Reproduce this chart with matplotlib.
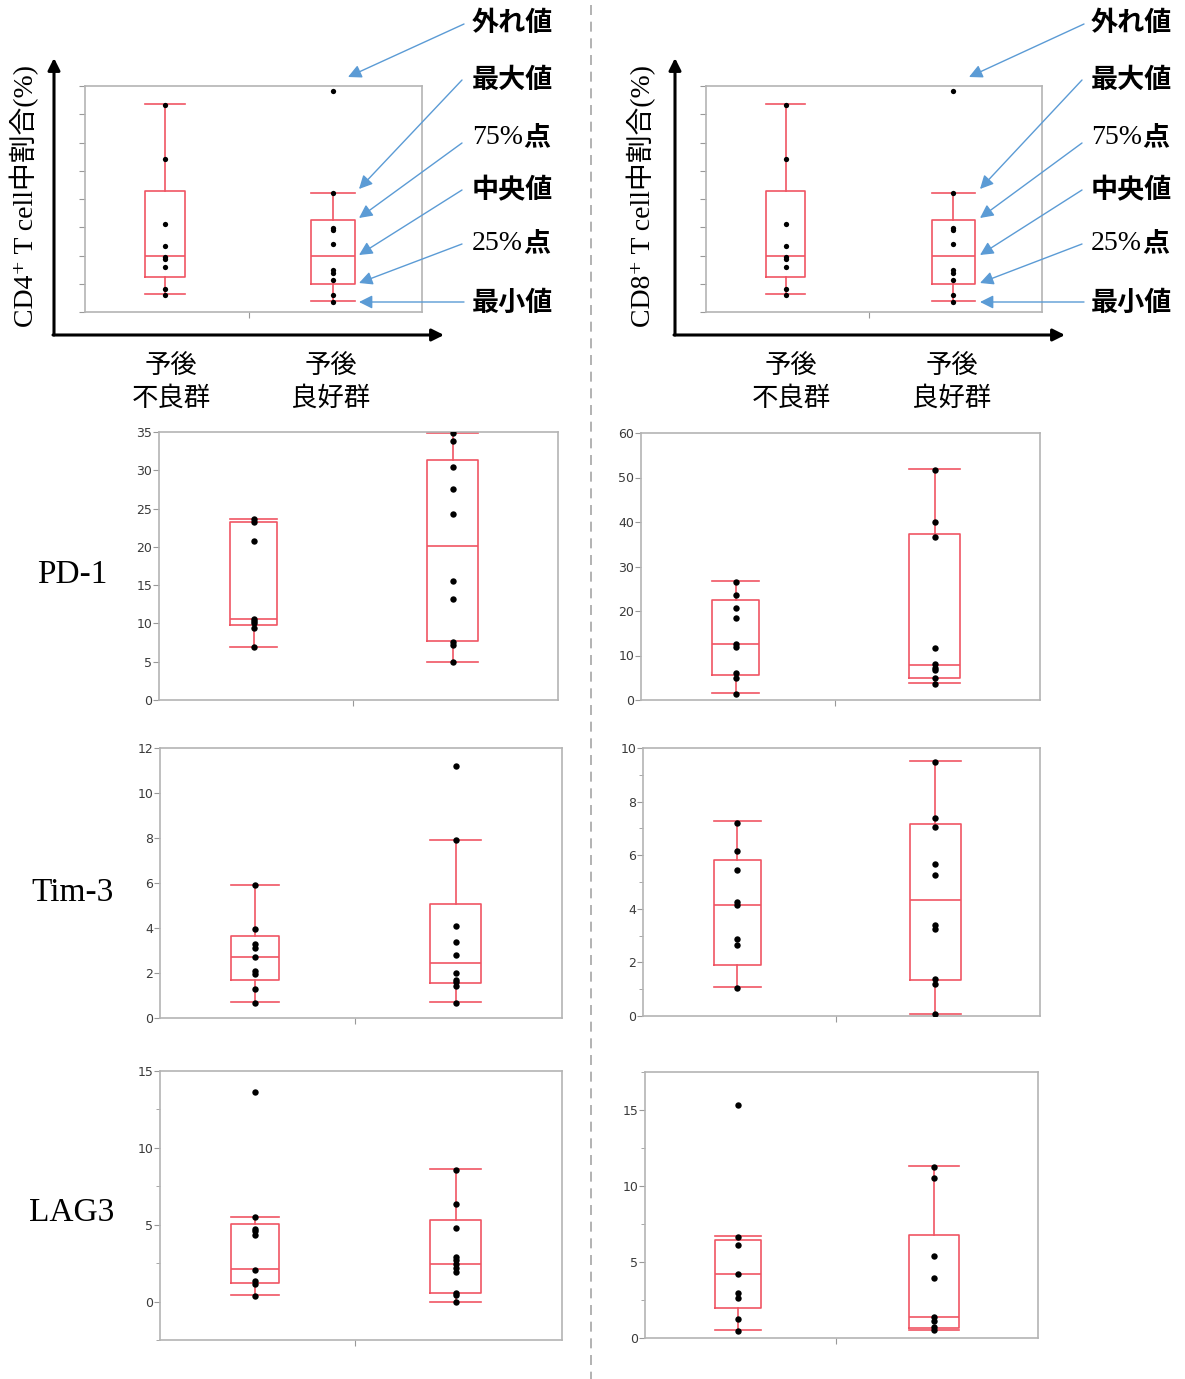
import matplotlib
matplotlib.use('Agg')
import matplotlib.pyplot as plt
import numpy as np

W, H = 1185, 1379
RED = '#f05563'
BLUE = '#5b9bd5'
GRAY = '#b4b4b4'
JP = ['Noto Sans CJK JP', 'DejaVu Sans']
SERIF_JP = ['Liberation Serif', 'Noto Sans CJK JP', 'DejaVu Serif']

groups = ['予後\n不良群', '予後\n良好群']
markers = ['PD-1', 'Tim-3', 'LAG3']

# schematic example (no units)
scheme_poor = [7.33, 5.43, 3.12, 2.32, 1.95, 1.89, 1.6, 0.82, 0.61]
scheme_good = [7.84, 4.2, 2.96, 2.9, 2.39, 1.5, 1.38, 1.12, 0.59, 0.34]
scheme_box = [(0.64, 1.24, 1.97, 4.3, 7.35), (0.38, 1.0, 1.97, 3.27, 4.21)]

# PD-1
pd1_cd4_poor = [23.6, 23.3, 20.8, 10.6, 10.3, 10.0, 9.4, 6.9]
pd1_cd4_good = [34.9, 33.8, 30.4, 27.5, 24.3, 15.6, 13.2, 7.6, 7.2, 4.9]
pd1_cd4_box = [(6.96, 9.8, 10.6, 23.3, 23.6), (4.9, 7.7, 20.1, 31.3, 34.9)]
pd1_cd8_poor = [26.5, 23.5, 20.7, 18.5, 12.6, 11.8, 6.0, 4.9, 1.4]
pd1_cd8_good = [51.6, 40.1, 36.6, 11.7, 8.2, 7.3, 6.7, 4.9, 3.7]
pd1_cd8_box = [(1.6, 5.6, 12.6, 22.4, 26.7), (3.9, 4.9, 7.9, 37.4, 51.8)]

# Tim-3
tim3_cd4_poor = [5.9, 3.96, 3.27, 3.1, 2.7, 2.07, 1.96, 1.29, 0.68]
tim3_cd4_good = [11.2, 7.9, 4.09, 3.39, 2.79, 1.99, 1.7, 1.59, 1.42, 0.68]
tim3_cd4_box = [(0.73, 1.67, 2.73, 3.66, 5.93), (0.73, 1.54, 2.43, 5.05, 7.93)]
tim3_cd8_poor = [7.22, 6.14, 5.43, 4.24, 4.14, 2.89, 2.66, 1.06]
tim3_cd8_good = [9.48, 7.38, 7.05, 5.68, 5.26, 3.39, 3.26, 1.39, 1.2, 0.07]
tim3_cd8_box = [(1.1, 1.92, 4.16, 5.82, 7.28), (0.09, 1.33, 4.33, 7.16, 9.5)]

# LAG3
lag3_cd4_poor = [13.64, 5.5, 4.75, 4.58, 4.36, 2.05, 1.34, 1.12, 0.37]
lag3_cd4_good = [8.55, 6.35, 4.81, 2.89, 2.68, 2.42, 2.2, 1.94, 0.58, 0.43, -0.06]
lag3_cd4_box = [(0.43, 1.23, 2.09, 5.07, 5.53), (0.0, 0.58, 2.46, 5.33, 8.61)]
lag3_cd8_poor = [15.33, 6.65, 6.15, 4.2, 2.97, 2.66, 1.27, 0.46]
lag3_cd8_good = [11.27, 10.52, 5.42, 3.97, 1.38, 1.12, 0.72, 0.5]
lag3_cd8_box = [(0.53, 2.0, 4.24, 6.44, 6.72), (0.53, 0.66, 1.38, 6.76, 11.33)]

fig = plt.figure(figsize=(W / 100, H / 100), dpi=100)


def add_ax(l, t, r, b):
    return fig.add_axes([l / W, 1 - b / H, (r - l) / W, (b - t) / H])


def box_panel(ax, poor, good, box, ylim, major, minor=None, labels=True, ms=4.6):
    stats = []
    for lo, q1, med, q3, hi in box:
        stats.append(dict(whislo=lo, q1=q1, med=med, q3=q3, whishi=hi, fliers=[]))
    props = dict(color=RED, lw=1.2)
    ax.bxp(stats, positions=[1, 2], widths=[0.237, 0.257], capwidths=[0.237, 0.257],
           showfliers=False, manage_ticks=False,
           boxprops=props, whiskerprops=props, capprops=props, medianprops=props)
    for pos, vals in zip([1, 2], [poor, good]):
        ax.plot(np.full(len(vals), pos), vals, 'o', color='black', ms=ms,
                mec='none', zorder=3)
    ax.set_xlim(0.525, 2.53)
    ax.set_ylim(*ylim)
    ax.set_xticks([1.5])
    ax.set_xticklabels([''])
    ax.set_yticks(major)
    if minor is not None:
        ax.set_yticks(minor, minor=True)
    if not labels:
        ax.set_yticklabels([])
    ax.tick_params(axis='both', which='both', direction='out', color='#999999',
                   labelsize=9, labelcolor='#3a3a3a', pad=1)
    ax.tick_params(which='major', length=4)
    ax.tick_params(which='minor', length=3)
    for s in ax.spines.values():
        s.set_color(GRAY)
        s.set_linewidth(1.2)


# schematic panels on top
for rect in [(85, 86, 422, 312), (706, 86, 1042, 312)]:
    ax = add_ax(*rect)
    box_panel(ax, scheme_poor, scheme_good, scheme_box, (0, 8), np.arange(0, 9, 1),
              labels=False, ms=3.8)

# data panels
panels = [
    ((159, 432, 558, 700), pd1_cd4_poor, pd1_cd4_good, pd1_cd4_box, (0, 35), np.arange(0, 36, 5), None),
    ((641, 433, 1040, 700), pd1_cd8_poor, pd1_cd8_good, pd1_cd8_box, (0, 60), np.arange(0, 61, 10), None),
    ((160, 748, 562, 1018), tim3_cd4_poor, tim3_cd4_good, tim3_cd4_box, (0, 12), np.arange(0, 13, 2), None),
    ((643, 748, 1040, 1016), tim3_cd8_poor, tim3_cd8_good, tim3_cd8_box, (0, 10), np.arange(0, 11, 2), np.arange(1, 10, 2)),
    ((160, 1071, 562, 1340), lag3_cd4_poor, lag3_cd4_good, lag3_cd4_box, (-2.5, 15), np.arange(0, 16, 5), [-2.5, 2.5, 7.5, 12.5]),
    ((645, 1072, 1038, 1338), lag3_cd8_poor, lag3_cd8_good, lag3_cd8_box, (0, 17.5), np.arange(0, 16, 5), [2.5, 7.5, 12.5, 17.5]),
]
for rect, poor, good, box, ylim, major, minor in panels:
    ax = add_ax(*rect)
    box_panel(ax, poor, good, box, ylim, major, minor)

# overlay in pixel coordinates for arrows and labels
ov = fig.add_axes([0, 0, 1, 1])
ov.set_xlim(0, W)
ov.set_ylim(H, 0)
ov.axis('off')
ov.patch.set_alpha(0)

ov.plot([591, 591], [5, H], color='#a6a6a6', lw=1.2, ls=(0, (6, 4)))

for (yx, xend, ylab_x, gx, arrow_x0, arrow_x1, text_x, cell) in [
        (54, 444, 24, (171, 331), 462, 359, 472, 'CD4'),
        (675, 1065, 641, (791, 952), 1082, 980, 1091, 'CD8')]:
    # axis arrows
    ov.annotate('', xy=(yx, 58), xytext=(yx, 335),
                arrowprops=dict(arrowstyle='-|>', color='black', lw=2.2, mutation_scale=18, shrinkA=0, shrinkB=0))
    ov.annotate('', xy=(xend, 335), xytext=(yx - 1, 335),
                arrowprops=dict(arrowstyle='-|>', color='black', lw=2.2, mutation_scale=18, shrinkA=0, shrinkB=0))
    ov.text(ylab_x, 196, cell + '⁺ T cell中割合(%)', rotation=90, ha='center', va='center',
            fontsize=20, family=SERIF_JP)
    for x, g in zip(gx, groups):
        ov.text(x, 382, g, ha='center', va='center', fontsize=19, family=JP, linespacing=1.25)

    # callouts
    tips = [(arrow_x1 - 11, 77), (arrow_x1, 189), (arrow_x1, 218), (arrow_x1, 255), (arrow_x1, 283), (arrow_x1, 302)]
    starts = [(arrow_x0 + 2, 24), (arrow_x0, 80), (arrow_x0, 143), (arrow_x0, 190), (arrow_x0, 244), (arrow_x0 + 2, 302)]
    for (tx, ty), (sx, sy) in zip(tips, starts):
        ov.annotate('', xy=(tx, ty), xytext=(sx, sy),
                    arrowprops=dict(arrowstyle='-|>', color=BLUE, lw=1.0, mutation_scale=20, shrinkA=0, shrinkB=0))
    for label, y in [('外れ値', 23), ('最大値', 80), ('中央値', 190), ('最小値', 303)]:
        ov.text(text_x, y, label, ha='left', va='center', fontsize=19.5, family=JP, weight='bold')
    for pct, y in [('75%', 137), ('25%', 243)]:
        ov.text(text_x, y, pct, ha='left', va='center', fontsize=20, family='Liberation Serif')
        ov.text(text_x + 51, y, '点', ha='left', va='center', fontsize=19.5, family=JP, weight='bold')

for name, y in zip(markers, [575, 893, 1213]):
    ov.text(72, y, name, ha='center', va='center', fontsize=24, family='Liberation Serif')

plt.savefig('out.png', dpi=100)
